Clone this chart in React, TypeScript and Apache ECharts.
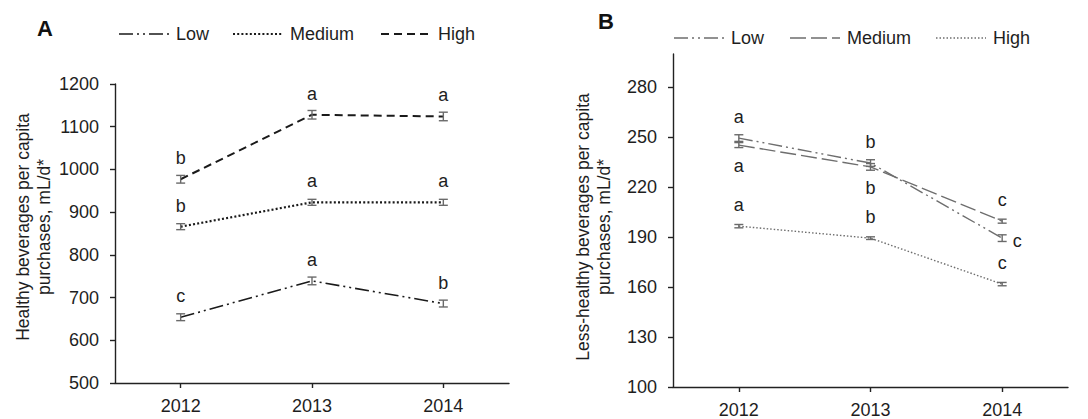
import React, { useEffect, useRef } from "react";
import * as echarts from "echarts";

const years = ["2012", "2013", "2014"];
const groups = ["Low", "Medium", "High"];

// Panel A: healthy beverages
const yTicksA = [500, 600, 700, 800, 900, 1000, 1100, 1200];
const lowA = [654, 739, 686];
const medA = [866, 923, 923];
const highA = [977, 1128, 1124];
const lowAErr = [8, 9, 8];
const medAErr = [7, 7, 7];
const highAErr = [9, 10, 10];
const lowALetters = ["c", "a", "b"];
const medALetters = ["b", "a", "a"];
const highALetters = ["b", "a", "a"];

// Panel B: less-healthy beverages
const yTicksB = [100, 130, 160, 190, 220, 250, 280];
const lowB = [249.5, 234.5, 189.4];
const medB = [245.3, 232.2, 199.6];
const highB = [196.6, 189.4, 161.8];
const lowBErr = [2, 2, 2];
const medBErr = [1.5, 2, 1.2];
const highBErr = [1, 0.8, 1];
const lowBLetters = ["a", "b", "c"];
const medBLetters = ["a", "b", "c"];
const highBLetters = ["a", "b", "c"];
const lowBPos = ["top", "top", "right"];
const medBPos = ["bottom", "bottom", "top"];
const highBPos = ["top", "top", "top"];

const FONT = "'Liberation Sans', Arial, Helvetica, sans-serif";
const TXT = "#1e1e1e";
const BAR = "#6a6a6a";

const styleA = {
  Low: { color: "#1a1a1a", width: 1.6, dash: [14, 4, 2, 4, 2, 4] },
  Medium: { color: "#1a1a1a", width: 2.2, dash: [2, 2.2] },
  High: { color: "#1a1a1a", width: 2, dash: [8, 5] },
};
const styleB = {
  Low: { color: "#6e6e6e", width: 1.4, dash: [14, 4, 2, 4, 2, 4] },
  Medium: { color: "#6e6e6e", width: 1.4, dash: [16, 5] },
  High: { color: "#6e6e6e", width: 1.4, dash: [1.5, 2] },
};

function lineSeries(name: string, data: number[], idx: number, st: any) {
  return {
    type: "line",
    name,
    xAxisIndex: idx,
    yAxisIndex: idx,
    data,
    symbol: "none",
    lineStyle: { color: st.color, width: st.width, type: st.dash },
    z: 2,
  };
}

function errSeries(values: number[], errs: number[], idx: number) {
  return {
    type: "custom",
    xAxisIndex: idx,
    yAxisIndex: idx,
    data: values.map((v, i) => [i, v, errs[i]]),
    encode: { x: 0, y: 1 },
    z: 3,
    renderItem: (params: any, api: any) => {
      const x = api.value(0);
      const v = api.value(1);
      const e = api.value(2);
      const t = api.coord([x, v + e]);
      const b = api.coord([x, v - e]);
      const hw = 4.5;
      const st = { stroke: BAR, lineWidth: 1.4 };
      return {
        type: "group",
        children: [
          { type: "line", shape: { x1: t[0], y1: t[1], x2: b[0], y2: b[1] }, style: st },
          { type: "line", shape: { x1: t[0] - hw, y1: t[1], x2: t[0] + hw, y2: t[1] }, style: st },
          { type: "line", shape: { x1: b[0] - hw, y1: b[1], x2: b[0] + hw, y2: b[1] }, style: st },
        ],
      };
    },
  };
}

function letterSeries(values: number[], letters: string[], pos: string[], idx: number) {
  return {
    type: "custom",
    xAxisIndex: idx,
    yAxisIndex: idx,
    data: values.map((v, i) => [i, v]),
    encode: { x: 0, y: 1 },
    z: 4,
    renderItem: (params: any, api: any) => {
      const i = params.dataIndex;
      const c = api.coord([api.value(0), api.value(1)]);
      const p = pos[i];
      let dx = 0;
      let dy = -21;
      if (p === "bottom") dy = 21;
      if (p === "right") {
        dx = 15;
        dy = 3;
      }
      return {
        type: "text",
        x: c[0] + dx,
        y: c[1] + dy,
        style: {
          text: letters[i],
          fontSize: 18,
          fontFamily: FONT,
          fill: TXT,
          align: "center",
          verticalAlign: "middle",
        },
      };
    },
  };
}

function legendGraphic(x0: number, y: number, styles: any, gaps: number[]) {
  const els: any[] = [];
  let x = x0;
  groups.forEach((g, k) => {
    const st = styles[g];
    els.push({
      type: "line",
      shape: { x1: x, y1: y, x2: x + 50, y2: y },
      style: { stroke: st.color, lineWidth: st.width, lineDash: st.dash },
    });
    els.push({
      type: "text",
      x: x + 57,
      y,
      style: { text: g, fontSize: 18, fontFamily: FONT, fill: TXT, align: "left", verticalAlign: "middle" },
    });
    x += gaps[k];
  });
  return els;
}

function xAxisCfg(idx: number) {
  return {
    type: "category",
    gridIndex: idx,
    data: years,
    boundaryGap: true,
    axisLine: { show: true, lineStyle: { color: "#222", width: 1.4 } },
    axisTick: { show: true, alignWithLabel: true, length: 5, lineStyle: { color: "#222", width: 1.4 } },
    axisLabel: { fontSize: 18, color: TXT, fontFamily: FONT, margin: 14 },
    splitLine: { show: false },
  };
}

const plain = (v: number) => String(v);

export default function App() {
  const ref = useRef<HTMLDivElement>(null);
  useEffect(() => {
    if (!ref.current) return;
    const chart = echarts.init(ref.current, null, { renderer: "svg" });
    const option: any = {
      animation: false,
      backgroundColor: "#fff",
      textStyle: { fontFamily: FONT },
      grid: [
        { left: 115, top: 84, width: 394, height: 299 },
        { left: 673, top: 54, width: 395, height: 334 },
      ],
      xAxis: [xAxisCfg(0), xAxisCfg(1)],
      yAxis: [
        {
          type: "value",
          gridIndex: 0,
          min: 500,
          max: 1200,
          interval: 100,
          axisLine: { show: true, lineStyle: { color: "#222", width: 1.4 } },
          axisTick: { show: true, length: 5, lineStyle: { color: "#222", width: 1.4 } },
          axisLabel: { fontSize: 18, color: TXT, fontFamily: FONT, margin: 16, customValues: yTicksA, formatter: plain },
          splitLine: { show: false },
        },
        {
          type: "value",
          gridIndex: 1,
          min: 100,
          max: 300,
          interval: 30,
          axisLine: { show: true, lineStyle: { color: "#222", width: 1.4 } },
          axisTick: { show: true, length: 5, lineStyle: { color: "#222", width: 1.4 }, customValues: yTicksB },
          axisLabel: { fontSize: 18, color: TXT, fontFamily: FONT, margin: 16, customValues: yTicksB, formatter: plain },
          splitLine: { show: false },
        },
      ],
      series: [
        lineSeries("Low", lowA, 0, styleA.Low),
        lineSeries("Medium", medA, 0, styleA.Medium),
        lineSeries("High", highA, 0, styleA.High),
        errSeries(lowA, lowAErr, 0),
        errSeries(medA, medAErr, 0),
        errSeries(highA, highAErr, 0),
        letterSeries(lowA, lowALetters, ["top", "top", "top"], 0),
        letterSeries(medA, medALetters, ["top", "top", "top"], 0),
        letterSeries(highA, highALetters, ["top", "top", "top"], 0),
        lineSeries("Low B", lowB, 1, styleB.Low),
        lineSeries("Medium B", medB, 1, styleB.Medium),
        lineSeries("High B", highB, 1, styleB.High),
        errSeries(lowB, lowBErr, 1),
        errSeries(medB, medBErr, 1),
        errSeries(highB, highBErr, 1),
        letterSeries(lowB, lowBLetters, lowBPos, 1),
        letterSeries(medB, medBLetters, medBPos, 1),
        letterSeries(highB, highBLetters, highBPos, 1),
      ],
      graphic: [
        {
          type: "text",
          x: 37,
          y: 17,
          style: { text: "A", fontSize: 22, fontWeight: "bold", fontFamily: FONT, fill: "#111" },
        },
        {
          type: "text",
          x: 598,
          y: 10,
          style: { text: "B", fontSize: 22, fontWeight: "bold", fontFamily: FONT, fill: "#111" },
        },
        {
          type: "text",
          x: 33,
          y: 227,
          rotation: Math.PI / 2,
          style: {
            text: "Healthy beverages per capita\npurchases, mL/d*",
            fontSize: 17.5,
            lineHeight: 21,
            fontFamily: FONT,
            fill: TXT,
            align: "center",
            verticalAlign: "middle",
          },
        },
        {
          type: "text",
          x: 593,
          y: 227,
          rotation: Math.PI / 2,
          style: {
            text: "Less-healthy beverages per capita\npurchases, mL/d*",
            fontSize: 17.5,
            lineHeight: 21,
            fontFamily: FONT,
            fill: TXT,
            align: "center",
            verticalAlign: "middle",
          },
        },
        ...legendGraphic(119, 34, styleA, [114, 148, 0]),
        ...legendGraphic(674, 38, styleB, [116, 146, 0]),
      ],
    };
    chart.setOption(option);
    return () => chart.dispose();
  }, []);
  return (
    <div
      ref={ref}
      style={{ position: "fixed", left: 0, top: 0, width: 1088, height: 419, background: "#fff" }}
    />
  );
}
